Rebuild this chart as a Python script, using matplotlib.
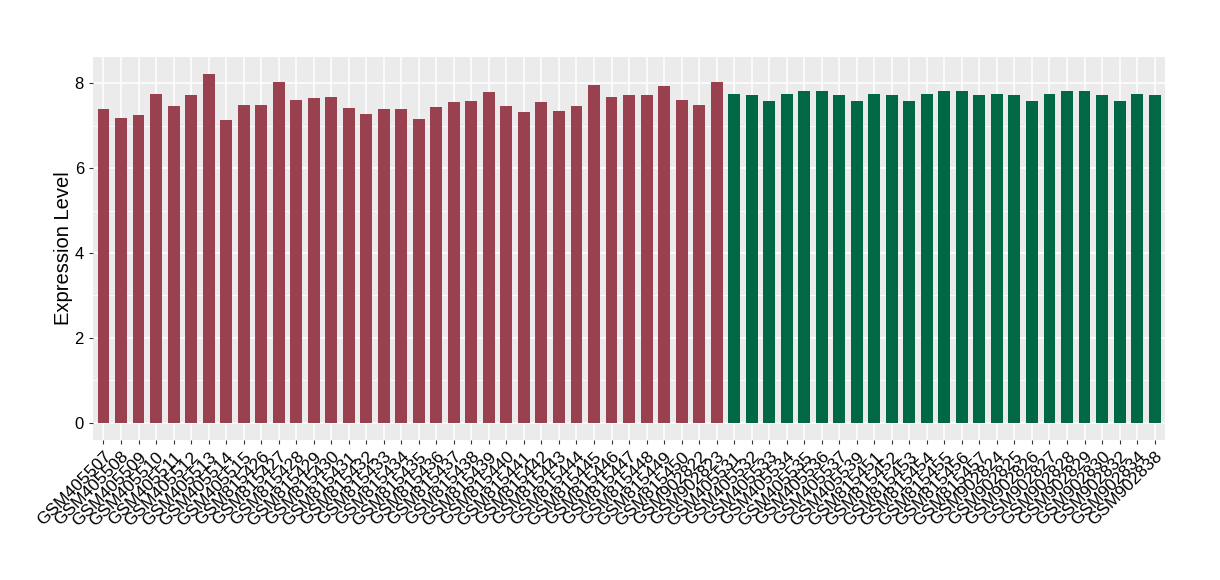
import matplotlib
matplotlib.use("Agg")
import matplotlib.pyplot as plt
import numpy as np

plt.rcParams["font.family"] = ["Liberation Sans", "DejaVu Sans"]

# group 1 (red) samples
samples_a = [
	"GSM405507", "GSM405508", "GSM405509", "GSM405510", "GSM405511",
	"GSM405512", "GSM405513", "GSM405514", "GSM405515", "GSM815426",
	"GSM815427", "GSM815428", "GSM815429", "GSM815430", "GSM815431",
	"GSM815432", "GSM815433", "GSM815434", "GSM815435", "GSM815436",
	"GSM815437", "GSM815438", "GSM815439", "GSM815440", "GSM815441",
	"GSM815442", "GSM815443", "GSM815444", "GSM815445", "GSM815446",
	"GSM815447", "GSM815448", "GSM815449", "GSM815450", "GSM902822",
	"GSM902823",
]
values_a = [
	7.39, 7.18, 7.25, 7.74, 7.46, 7.72, 8.21, 7.13, 7.48, 7.48,
	8.02, 7.60, 7.65, 7.67, 7.41, 7.27, 7.39, 7.39, 7.15, 7.44,
	7.55, 7.58, 7.79, 7.46, 7.32, 7.55, 7.34, 7.46, 7.95, 7.67,
	7.72, 7.72, 7.93, 7.60, 7.48, 8.02,
]

# group 2 (green) samples
samples_b = [
	"GSM405531", "GSM405532", "GSM405533", "GSM405534", "GSM405535",
	"GSM405536", "GSM405537", "GSM405539", "GSM815451", "GSM815452",
	"GSM815453", "GSM815454", "GSM815455", "GSM815456", "GSM815457",
	"GSM902824", "GSM902825", "GSM902826", "GSM902827", "GSM902828",
	"GSM902829", "GSM902830", "GSM902832", "GSM902834", "GSM902838",
]
values_b = [
	7.74, 7.72, 7.58, 7.76, 7.81, 7.81, 7.72, 7.58, 7.74, 7.72,
	7.58, 7.76, 7.81, 7.81, 7.72, 7.74, 7.72, 7.58, 7.76, 7.81,
	7.81, 7.72, 7.58, 7.76, 7.72,
]

labels = samples_a + samples_b
values = values_a + values_b
colors = ["#9A4150"] * len(samples_a) + ["#006845"] * len(samples_b)
x = np.arange(len(labels))

fig = plt.figure(figsize=(12.2, 5.8), dpi=100)
ax = fig.add_axes([0.0762, 0.2414, 0.955 - 0.0762, 0.9017 - 0.2414])
ax.set_facecolor("#EBEBEB")

ax.set_yticks([1, 3, 5, 7], minor=True)
ax.grid(which="major", axis="y", color="white", linewidth=1.1)
ax.grid(which="minor", axis="y", color="white", linewidth=0.55)
ax.grid(which="major", axis="x", color="white", linewidth=1.1)
ax.set_axisbelow(True)

ax.bar(x, values, width=0.68, color=colors, zorder=2)

ymax = max(values)
ax.set_ylim(-0.05 * ymax, ymax * 1.05)
ax.set_xlim(-0.6, len(labels) - 0.4)
ax.set_yticks([0, 2, 4, 6, 8])

ax.set_xticks(x)
ax.set_xticklabels(labels, rotation=45, ha="right", rotation_mode="anchor", fontsize=12.5)
ax.tick_params(axis="y", labelsize=12, colors="#333333", length=3, labelcolor="black")
ax.tick_params(axis="x", colors="#333333", length=3, labelcolor="black")
ax.tick_params(axis="y", which="minor", length=0)

for s in ax.spines.values():
	s.set_visible(False)

ax.set_ylabel("Expression Level", fontsize=14.5, labelpad=1)

fig.savefig("out.png", dpi=100)
plt.close(fig)
